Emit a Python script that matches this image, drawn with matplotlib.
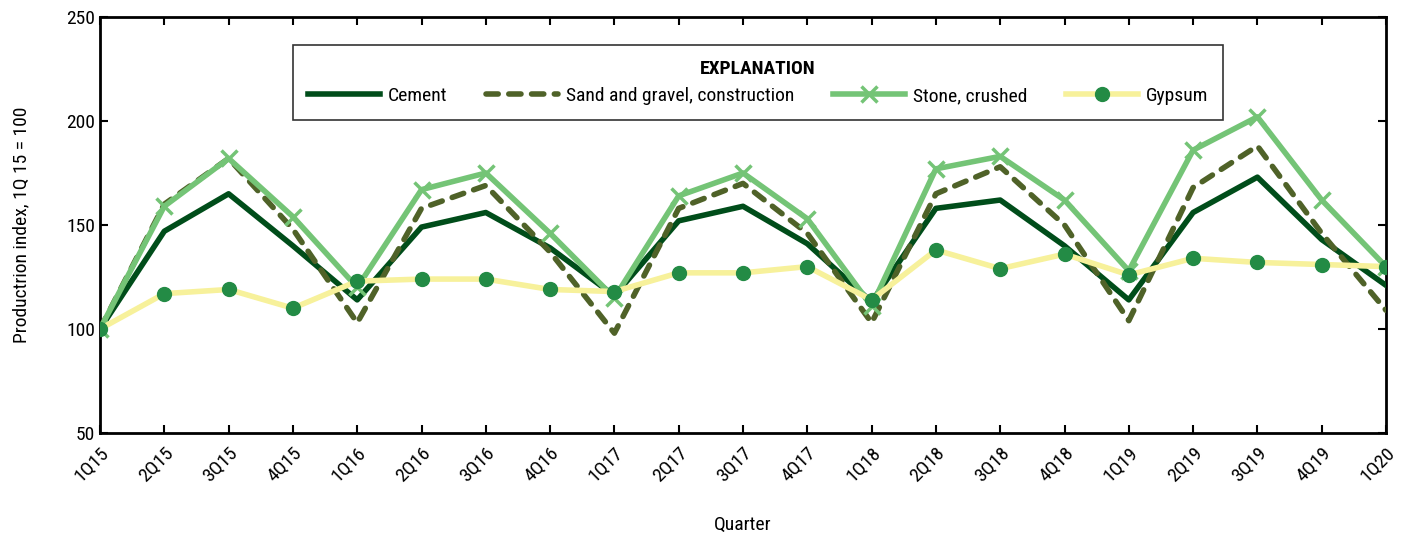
import matplotlib
matplotlib.use("Agg")
import matplotlib.pyplot as plt
from matplotlib import font_manager

names = {f.name for f in font_manager.fontManager.ttflist}
fam = [n for n in ["Liberation Sans Narrow", "Arial Narrow", "Roboto Condensed", "Liberation Sans", "DejaVu Sans"] if n in names]
plt.rcParams['font.family'] = fam

quarters = ["1Q15", "2Q15", "3Q15", "4Q15", "1Q16", "2Q16", "3Q16", "4Q16",
            "1Q17", "2Q17", "3Q17", "4Q17", "1Q18", "2Q18", "3Q18", "4Q18",
            "1Q19", "2Q19", "3Q19", "4Q19", "1Q20"]
cement = [100, 147, 165, 140, 114, 149, 156, 139, 116, 152, 159, 141, 113, 158, 162, 140,
          114, 156, 173, 143, 121]
sand_gravel = [100, 160, 182, 148, 103, 158, 169, 137, 98, 158, 170, 146, 103, 165, 178, 150,
               104, 168, 188, 146, 109]
stone = [100, 159, 182, 154, 120, 167, 175, 146, 115, 164, 175, 153, 111, 177, 183, 162,
         128, 186, 202, 162, 130]
gypsum = [100, 117, 119, 110, 123, 124, 124, 119, 118, 127, 127, 130, 114, 138, 129, 136,
          126, 134, 132, 131, 130]

fig = plt.figure(figsize=(14.07, 5.39), dpi=100)
ax = fig.add_axes([100/1407, 1-433/539, (1386-100)/1407, (433-17)/539])

x = list(range(len(quarters)))
ax.plot(x, cement, color="#004d1a", lw=4, label="Cement", zorder=3)
ax.plot(x, sand_gravel, color="#4f6228", lw=4, ls=(0, (2.2, 1.9)), dash_capstyle="round",
        label="Sand and gravel, construction", zorder=3)
ax.plot(x, stone, color="#74c476", lw=4, marker="x", ms=12, mew=2.5, label="Stone, crushed", zorder=4)
ax.plot(x, gypsum, color="#f7f19b", lw=4, marker="o", ms=10, mfc="#238b45", mec="#238b45",
        label="Gypsum", zorder=5)

ax.set_xlim(0, len(quarters) - 1)
ax.set_ylim(50, 250)
ax.set_yticks([50, 100, 150, 200, 250])
ax.set_xticks(x)
ax.set_xticklabels(quarters, rotation=45, ha="right", rotation_mode="anchor")
ax.tick_params(direction="in", top=True, right=True, length=6, width=1.5, labelsize=14, colors="black")
ax.tick_params(axis="x", pad=8)
for s in ax.spines.values():
    s.set_linewidth(2)
ax.set_ylabel("Productrion index, 1Q 15 = 100", fontsize=14, labelpad=26)
ax.set_xlabel("Quarter", fontsize=14, labelpad=22)

leg = ax.legend(loc="upper center", bbox_to_anchor=(0.5117, 0.9327), ncol=4, frameon=True,
                fancybox=False, edgecolor="black", fontsize=14, handlelength=3.7,
                columnspacing=2.0, handletextpad=0.4, borderpad=0.75, borderaxespad=0,
                title="EXPLANATION", title_fontproperties={"weight": "bold", "size": 14})
leg.get_frame().set_linewidth(1.2)
leg.get_title().set_family(fam)

fig.savefig("out.png", dpi=100)
